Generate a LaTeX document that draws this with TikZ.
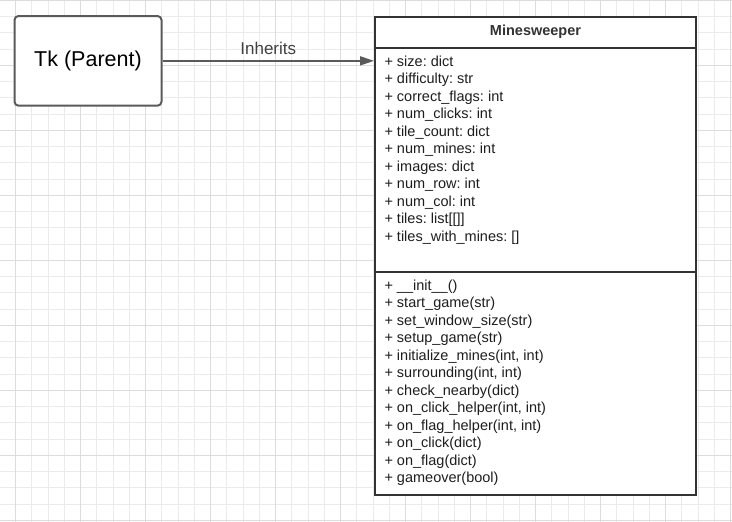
\documentclass[tikz,border=0pt]{standalone}
\usepackage{fontspec}
\setmainfont{Liberation Sans}
\usetikzlibrary{arrows.meta}
\frenchspacing
\definecolor{gridminor}{HTML}{EBEBEB}
\definecolor{gridmajor}{HTML}{DCDCDC}
\definecolor{tkline}{HTML}{5A5A5A}
\definecolor{classline}{HTML}{333333}
\definecolor{txt}{HTML}{1E1E1E}
\definecolor{lbl}{HTML}{404040}
\tikzset{
  gridmin/.style={draw=gridminor, line width=1pt},
  gridmaj/.style={draw=gridmajor, line width=1pt},
  tkbox/.style={draw=tkline, fill=white, line width=2pt, rounded corners=4pt,
    minimum width=147pt, minimum height=89.7pt, inner sep=0pt,
    font=\fontsize{21.5}{25}\selectfont, text=black},
  classpart/.style={draw=classline, fill=white, line width=2pt, minimum width=321pt,
    inner sep=0pt, anchor=north west},
  member/.style={anchor=base west, inner sep=0pt, text=txt,
    font=\fontsize{14.5}{17.5}\selectfont\frenchspacing},
  inherit/.style={draw=tkline, line width=1.5pt, -{Triangle[length=14pt,width=9pt]}},
}
\begin{document}
\begin{tikzpicture}[x=1pt,y=-1pt]
\useasboundingbox (0,0) rectangle (732,522);
\fill[white] (0,0) rectangle (732,522);
% grid
\foreach \gx in {-0.75,15.5,...,740} \draw[gridmin] (\gx,0) -- (\gx,522);
\foreach \gy in {0.3,16.55,...,530} \draw[gridmin] (0,\gy) -- (732,\gy);
\foreach \gx in {15.5,80.5,...,740} \draw[gridmaj] (\gx,0) -- (\gx,522);
\foreach \gy in {0.3,65.3,...,530} \draw[gridmaj] (0,\gy) -- (732,\gy);
% parent
\node[tkbox] (tk) at (88,60.85) {Tk (Parent)};
% class box
\node[classpart, minimum height=31.3pt] (hdr) at (374,16) {};
\node[classpart, minimum height=224pt] (attr) at (374,47.3) {};
\node[classpart, minimum height=223pt] (meth) at (374,271.3) {};
\node[inner sep=0pt, text=classline, font=\fontsize{14.5}{17}\selectfont\bfseries] (title) at ([yshift=1pt]hdr.center) {Minesweeper};
% attributes
\foreach [count=\i] \t in {{size: dict},{difficulty: str},{correct\_flags: int},{num\_clicks: int},{tile\_count: dict},{num\_mines: int},{images: dict},{num\_row: int},{num\_col: int},{tiles: list[[]]},{tiles\_with\_mines: []}}
  \node[member] (a\i) at (384.3,{66+17.5*(\i-1)}) {+ \t};
% methods
\foreach [count=\i] \t in {{\_\_init\_\_()},{start\_game(str)},{set\_window\_size(str)},{setup\_game(str)},{initialize\_mines(int, int)},{surrounding(int, int)},{check\_nearby(dict)},{on\_click\_helper(int, int)},{on\_flag\_helper(int, int)},{on\_click(dict)},{on\_flag(dict)},{gameover(bool)}}
  \node[member] (m\i) at (384.3,{290+17.5*(\i-1)}) {+ \t};
% inheritance arrow
\coordinate (tgt) at (attr.north west |- tk.east);
\draw[inherit] (tk.east) -- (tgt) node[midway, above=5.5pt, inner sep=0pt, text=lbl, font=\fontsize{17}{20}\selectfont] (lab) {Inherits};
\end{tikzpicture}
\end{document}
